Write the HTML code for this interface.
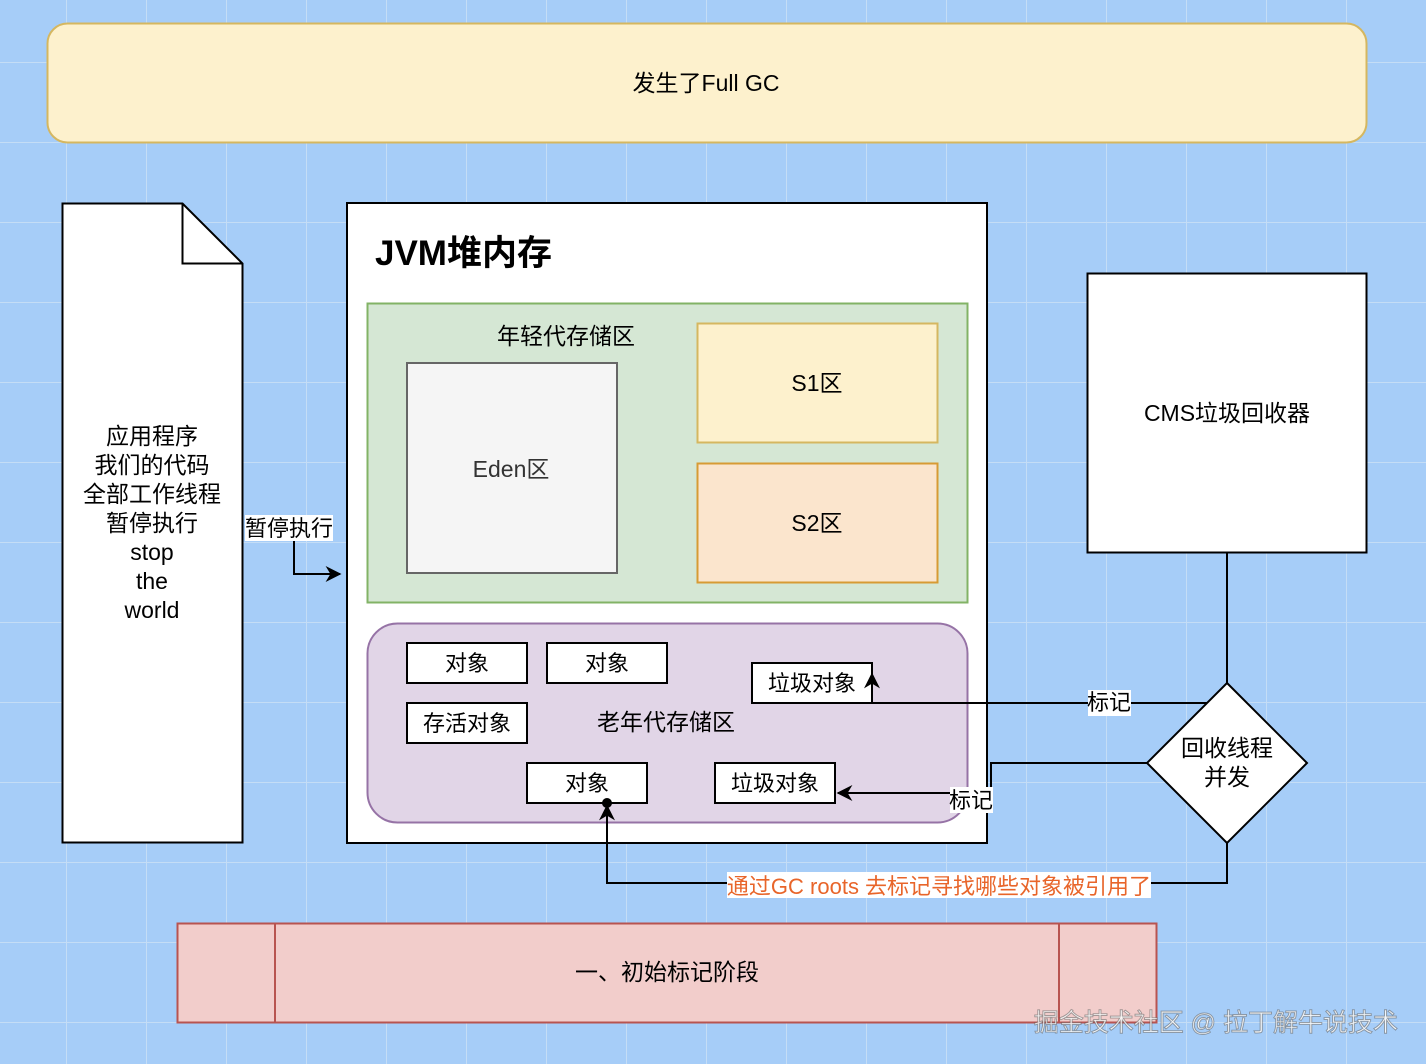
<!DOCTYPE html>
<html><head><meta charset="utf-8"><style>
html,body{margin:0;padding:0;}
body{width:1426px;height:1064px;overflow:hidden;background-color:#a6cdf8;
background-image:linear-gradient(to right,#c4ddf6 1px,transparent 1px),linear-gradient(to bottom,#c4ddf6 1px,transparent 1px);
background-size:80px 80px;background-position:66px 62px;}
svg{position:absolute;left:0;top:0;}
text{font-family:"Liberation Sans","Noto Sans CJK SC",sans-serif;fill:#000;}
</style></head><body>
<svg width="1426" height="1064" viewBox="0 0 1426 1064">
<defs>
<marker id="ar2" viewBox="0 0 10 10" refX="9" refY="5" markerWidth="16" markerHeight="16" markerUnits="userSpaceOnUse" orient="auto"><path d="M0,0 L10,5 L0,10 L3,5 Z" fill="#000"/></marker>
</defs>
<rect x="47.5" y="23.5" width="1319" height="119" rx="20" fill="#fdf1cd" stroke="#d5b760" stroke-width="2"/>
<text x="706" y="91" font-size="23" text-anchor="middle">发生了Full GC</text>

<path d="M62.5,203.5 H182.5 L242.5,263.5 V842.5 H62.5 Z" fill="#fff" stroke="#000" stroke-width="2"/>
<path d="M182.5,203.5 V263.5 H242.5" fill="none" stroke="#000" stroke-width="2"/>
<g font-size="23" text-anchor="middle">
<text x="152" y="444">应用程序</text><text x="152" y="473">我们的代码</text><text x="152" y="502">全部工作线程</text><text x="152" y="531">暂停执行</text><text x="152" y="560">stop</text><text x="152" y="589">the</text><text x="152" y="618">world</text>
</g>

<rect x="347" y="203" width="640" height="640" fill="#fff" stroke="#000" stroke-width="2"/>
<text x="375" y="265" font-size="35" font-weight="bold">JVM堆内存</text>

<rect x="367.5" y="303.5" width="600" height="299" fill="#d5e7d4" stroke="#82b366" stroke-width="2"/>
<text x="566" y="344" font-size="23" text-anchor="middle">年轻代存储区</text>
<rect x="407" y="363" width="210" height="210" fill="#f5f5f5" stroke="#666" stroke-width="2"/>
<text x="511" y="477" font-size="23" text-anchor="middle" style="fill:#333">Eden区</text>
<rect x="697.5" y="323.5" width="240" height="119" fill="#fdf1cd" stroke="#d5b760" stroke-width="2"/>
<text x="817" y="391" font-size="23" text-anchor="middle">S1区</text>
<rect x="697.5" y="463.5" width="240" height="119" fill="#fbe5cd" stroke="#d79b34" stroke-width="2"/>
<text x="817" y="531" font-size="23" text-anchor="middle">S2区</text>

<rect x="367.5" y="623.5" width="600" height="199" rx="30" fill="#e1d5e7" stroke="#9673a6" stroke-width="2"/>
<text x="666" y="730" font-size="23" text-anchor="middle">老年代存储区</text>
<g fill="#fff" stroke="#000" stroke-width="2">
<rect x="407" y="643" width="120" height="40"/><rect x="547" y="643" width="120" height="40"/>
<rect x="407" y="703" width="120" height="40"/><rect x="527" y="763" width="120" height="40"/>
<rect x="715" y="763" width="120" height="40"/><rect x="752" y="663" width="120" height="40"/>
</g>
<g font-size="22" text-anchor="middle">
<text x="467" y="671">对象</text><text x="607" y="671">对象</text><text x="467" y="731">存活对象</text>
<text x="587" y="791">对象</text><text x="775" y="791">垃圾对象</text><text x="812" y="691">垃圾对象</text>
</g>

<rect x="1087.5" y="273.5" width="279" height="279" fill="#fff" stroke="#000" stroke-width="2"/>
<text x="1227" y="421" font-size="23" text-anchor="middle">CMS垃圾回收器</text>
<line x1="1227" y1="553" x2="1227" y2="683" stroke="#000" stroke-width="2"/>
<path d="M1227,683 L1307,763 L1227,843 L1147,763 Z" fill="#fff" stroke="#000" stroke-width="2"/>
<text x="1227" y="756" font-size="23" text-anchor="middle">回收线程</text>
<text x="1227" y="785" font-size="23" text-anchor="middle">并发</text>

<g fill="none" stroke="#000" stroke-width="2">
<path d="M294,540 V574 H340" marker-end="url(#ar2)"/>
<path d="M1207,703 H872 V674" marker-end="url(#ar2)"/>
<path d="M1147,763 H991 V793 H838" marker-end="url(#ar2)"/>
<path d="M1227,843 V883 H607 V806" marker-end="url(#ar2)"/>
</g>
<circle cx="607" cy="803" r="5" fill="#000"/>
<rect x="245" y="515" width="88" height="26" fill="#fff"/>
<text x="289" y="536" font-size="22" text-anchor="middle">暂停执行</text>
<rect x="1088" y="690" width="43" height="26" fill="#fff"/>
<text x="1109" y="710" font-size="22" text-anchor="middle">标记</text>
<rect x="950" y="787" width="43" height="26" fill="#fff"/>
<text x="971" y="808" font-size="22" text-anchor="middle">标记</text>
<rect x="727" y="872" width="424" height="26" fill="#fff"/>
<text x="939" y="894" font-size="22" text-anchor="middle" style="fill:#e8652a">通过GC roots 去标记寻找哪些对象被引用了</text>

<rect x="177.5" y="923.5" width="979" height="99" fill="#f2cdcb" stroke="#b85450" stroke-width="2"/>
<line x1="275" y1="924" x2="275" y2="1022" stroke="#b85450" stroke-width="2"/>
<line x1="1059" y1="924" x2="1059" y2="1022" stroke="#b85450" stroke-width="2"/>
<text x="667" y="980" font-size="23" text-anchor="middle">一、初始标记阶段</text>
<text x="1398" y="1031" font-size="25" text-anchor="end" style="fill:rgba(255,255,255,0.85);stroke:rgba(80,80,80,0.5);stroke-width:1">掘金技术社区 @ 拉丁解牛说技术</text>
</svg>
</body></html>
